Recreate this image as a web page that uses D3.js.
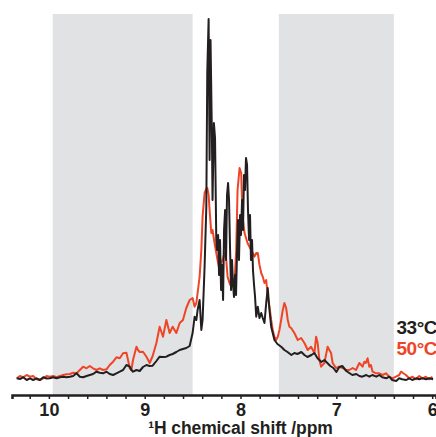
<!DOCTYPE html>
<html>
<head>
<meta charset="utf-8">
<script src="https://cdn.jsdelivr.net/npm/d3@7"></script>
<style>
  html, body { margin: 0; padding: 0; background: #fff; }
  svg { display: block; }
  text { font-family: "Liberation Sans", Arial, sans-serif; }
</style>
</head>
<body>
<svg id="chart" width="436" height="437"></svg>
<script>
// Shaded amide windows (ppm)
const shadedRanges = [[9.96, 8.5], [7.6, 6.4]];

// Labelled ticks on the chemical-shift axis
const majorTicks = [10, 9, 8, 7, 6];

const seriesNames = ["33°C", "50°C"];
const seriesColors = ["#231f20", "#ef4526"];

// 1H spectrum recorded at 33 °C: shift (ppm) and intensity (a.u.)
const ppm33 = [
  10.336,10.302,10.268,10.232,10.198,10.164,10.128,10.094,10.059,10.024,
  9.990,9.955,9.920,9.885,9.851,9.816,9.781,9.747,9.711,9.677,
  9.643,9.607,9.573,9.539,9.503,9.469,9.434,9.399,9.365,9.330,
  9.295,9.260,9.226,9.191,9.156,9.139,9.122,9.086,9.052,9.018,
  8.982,8.948,8.917,8.878,8.844,8.809,8.774,8.740,8.708,8.670,
  8.635,8.601,8.566,8.531,8.500,8.479,8.461,8.448,8.427,8.409,
  8.396,8.375,8.357,8.347,8.333,8.323,8.313,8.299,8.292,8.278,
  8.266,8.253,8.245,8.234,8.224,8.214,8.203,8.193,8.182,8.172,
  8.161,8.151,8.141,8.130,8.120,8.109,8.099,8.089,8.078,8.068,
  8.057,8.047,8.036,8.026,8.016,8.005,7.995,7.984,7.974,7.964,
  7.953,7.943,7.932,7.922,7.911,7.901,7.891,7.880,7.870,7.859,
  7.849,7.836,7.820,7.802,7.784,7.768,7.750,7.732,7.716,7.698,
  7.680,7.664,7.646,7.615,7.573,7.542,7.510,7.469,7.438,7.406,
  7.365,7.333,7.302,7.260,7.229,7.198,7.156,7.125,7.094,7.063,
  7.031,7.000,6.969,6.938,6.896,6.865,6.833,6.792,6.760,6.729,
  6.688,6.656,6.625,6.583,6.552,6.521,6.479,6.448,6.417,6.375,
  6.344,6.313,6.271,6.240,6.208,6.167,6.135,6.104,6.063,6.031,5.990
];
const int33 = [
  2.7,2,3.7,1,2.7,1,2.7,1,3.7,2.5,
  2.7,3.7,2.7,3.7,4.3,3.7,4.3,5,7.7,4.3,
  3.7,5,6,7,9.3,8.3,7.7,9.3,7,6,
  7.7,9.3,11,16,14.3,11,9.3,11,10,14,
  16,15,15.3,20,24.3,24,24.3,26,27,29,
  31,32,33,35,48,64.3,61,71,81,51,
  61,114.3,174.3,309.3,362,221,341,248,181,258,
  243,141,131,146,106,141,91,116,81,151,
  171,121,186,198,181,131,91,121,96,84,
  106,86,131,161,121,166,146,181,151,206,
  191,223,216,171,141,166,121,141,111,96,
  85,64.3,74.3,63,68,63,58,78,93,71,
  54.3,48,41,37,34,31,29,26,28,27,
  29,26,24,26,28,23,19,21,18,15,
  13,9,14,15,10,8,6,7,5,4.3,
  6,4.3,6,4.3,6,3.7,2.7,4.3,1,0,
  2.7,1.7,1,2.7,1,2.7,1.7,2.7,1.7,2.7,1.7
];

// 1H spectrum recorded at 50 °C: shift (ppm) and intensity (a.u.)
const ppm50 = [
  10.336,10.302,10.268,10.232,10.198,10.164,10.128,10.094,10.059,10.024,
  9.990,9.955,9.920,9.885,9.851,9.816,9.781,9.747,9.711,9.677,
  9.643,9.607,9.573,9.539,9.503,9.469,9.434,9.399,9.365,9.330,
  9.295,9.260,9.226,9.191,9.174,9.156,9.139,9.122,9.104,9.086,
  9.070,9.052,9.018,8.982,8.948,8.917,8.878,8.844,8.809,8.774,
  8.740,8.708,8.670,8.635,8.601,8.566,8.531,8.500,8.479,8.461,
  8.448,8.427,8.409,8.396,8.375,8.357,8.347,8.333,8.323,8.305,
  8.292,8.271,8.240,8.219,8.201,8.182,8.167,8.149,8.135,8.115,
  8.097,8.078,8.063,8.045,8.031,8.010,7.993,7.979,7.958,7.927,
  7.889,7.854,7.836,7.820,7.802,7.784,7.768,7.750,7.732,7.716,
  7.698,7.680,7.664,7.646,7.628,7.611,7.594,7.576,7.559,7.542,
  7.524,7.507,7.490,7.472,7.438,7.403,7.368,7.333,7.299,7.264,
  7.229,7.211,7.195,7.177,7.159,7.125,7.091,7.073,7.055,7.039,
  7.003,6.969,6.934,6.899,6.865,6.830,6.795,6.760,6.726,6.708,
  6.691,6.674,6.656,6.639,6.622,6.586,6.552,6.518,6.482,6.448,
  6.414,6.378,6.344,6.326,6.309,6.274,6.240,6.205,6.170,6.135,
  6.101,6.066,6.031,5.997
];
const int50 = [
  2.7,5,3.7,6,4.3,5,1.7,1,2.7,5,
  4.3,5,3.7,5,6,6.7,7,8.3,7.7,11,
  14.3,12.7,15,12.7,11,12.7,11,11.7,16,19.3,
  23.7,22.7,27.7,28.3,21,12.7,11,21,27.7,34.3,
  31,29,29.3,24.3,18,25,38,54.3,44.3,61,
  48,54.3,48,58,61,73,81,83,74.3,78,
  88,104.3,131,164.3,188,192,193,186,171,148,
  151,138,121,111,118,123,128,121,104.3,98,
  94.3,97,98,131,191,213,208,164.3,148,138,
  131,124.3,128,128,116,108,104.3,98,101,84.3,
  74.3,61,51,44.3,41,44.3,51,61,71,78,
  73,61,54.3,53,48,41,43,38,31,34.3,
  28,44.3,38,21,14.3,18,34.3,31,28,18,
  13,14.3,13,11,11,13,11,18,14.3,19.3,
  18,22.7,14.3,16,9.3,7.7,7.7,6,7.7,4.3,
  2.7,4.3,6,9.3,8.3,6,2.7,4.3,1.7,5,
  2.7,4.3,1.7,4.3
];

const width = 436, height = 437;
const plotTop = 14, axisY = 395;

const svg = d3.select("#chart");

// Chemical shift runs right-to-left
const x = d3.scaleLinear().domain([10.385, 5.96]).range([12, 436]);
const y = d3.scaleLinear().domain([0, 362]).range([381, 19]);

// Shaded bands
svg.append("g")
  .selectAll("rect")
  .data(shadedRanges)
  .join("rect")
  .attr("x", d => x(d[0]))
  .attr("width", d => x(d[1]) - x(d[0]))
  .attr("y", plotTop)
  .attr("height", axisY - plotTop)
  .attr("fill", "#e1e2e4");

// Spectra
const line = d3.line()
  .x(d => x(d[0]))
  .y(d => y(d[1]));

const spectra = [
  { name: seriesNames[1], color: seriesColors[1], pts: d3.zip(ppm50, int50) },
  { name: seriesNames[0], color: seriesColors[0], pts: d3.zip(ppm33, int33) }
];

svg.append("g")
  .selectAll("path")
  .data(spectra)
  .join("path")
  .attr("d", d => line(d.pts))
  .attr("fill", "none")
  .attr("stroke", d => d.color)
  .attr("stroke-width", 2)
  .attr("stroke-linejoin", "round");

// Axis with minor ticks every 0.2 ppm
const tickVals = d3.range(30, 52).map(v => v / 5);
const axis = d3.axisBottom(x)
  .tickValues(tickVals)
  .tickSize(4)
  .tickSizeOuter(4)
  .tickPadding(4)
  .tickFormat(d => majorTicks.includes(Math.round(d * 10) / 10) ? d3.format("d")(Math.round(d)) : "");

const ax = svg.append("g")
  .attr("transform", `translate(0,${axisY})`)
  .call(axis);
ax.select(".domain").attr("stroke", "#231f20").attr("stroke-width", 2.5);
ax.selectAll(".tick line").attr("stroke", "#231f20").attr("stroke-width", 1.5);
ax.selectAll(".tick text")
  .attr("fill", "#231f20")
  .style("font-size", "18px")
  .style("font-weight", "bold");

// Axis title
svg.append("text")
  .attr("x", x(8))
  .attr("y", 434)
  .attr("text-anchor", "middle")
  .attr("fill", "#231f20")
  .style("font-size", "17.5px")
  .style("font-weight", "bold")
  .style("letter-spacing", "-0.1px")
  .text("¹H chemical shift /ppm");

// Legend
svg.append("g")
  .selectAll("text")
  .data(seriesNames)
  .join("text")
  .attr("x", 437)
  .attr("y", (d, i) => 334 + i * 21)
  .attr("text-anchor", "end")
  .attr("fill", (d, i) => seriesColors[i])
  .style("font-size", "19px")
  .style("font-weight", "bold")
  .style("letter-spacing", "-0.5px")
  .text(d => d);
</script>
</body>
</html>
